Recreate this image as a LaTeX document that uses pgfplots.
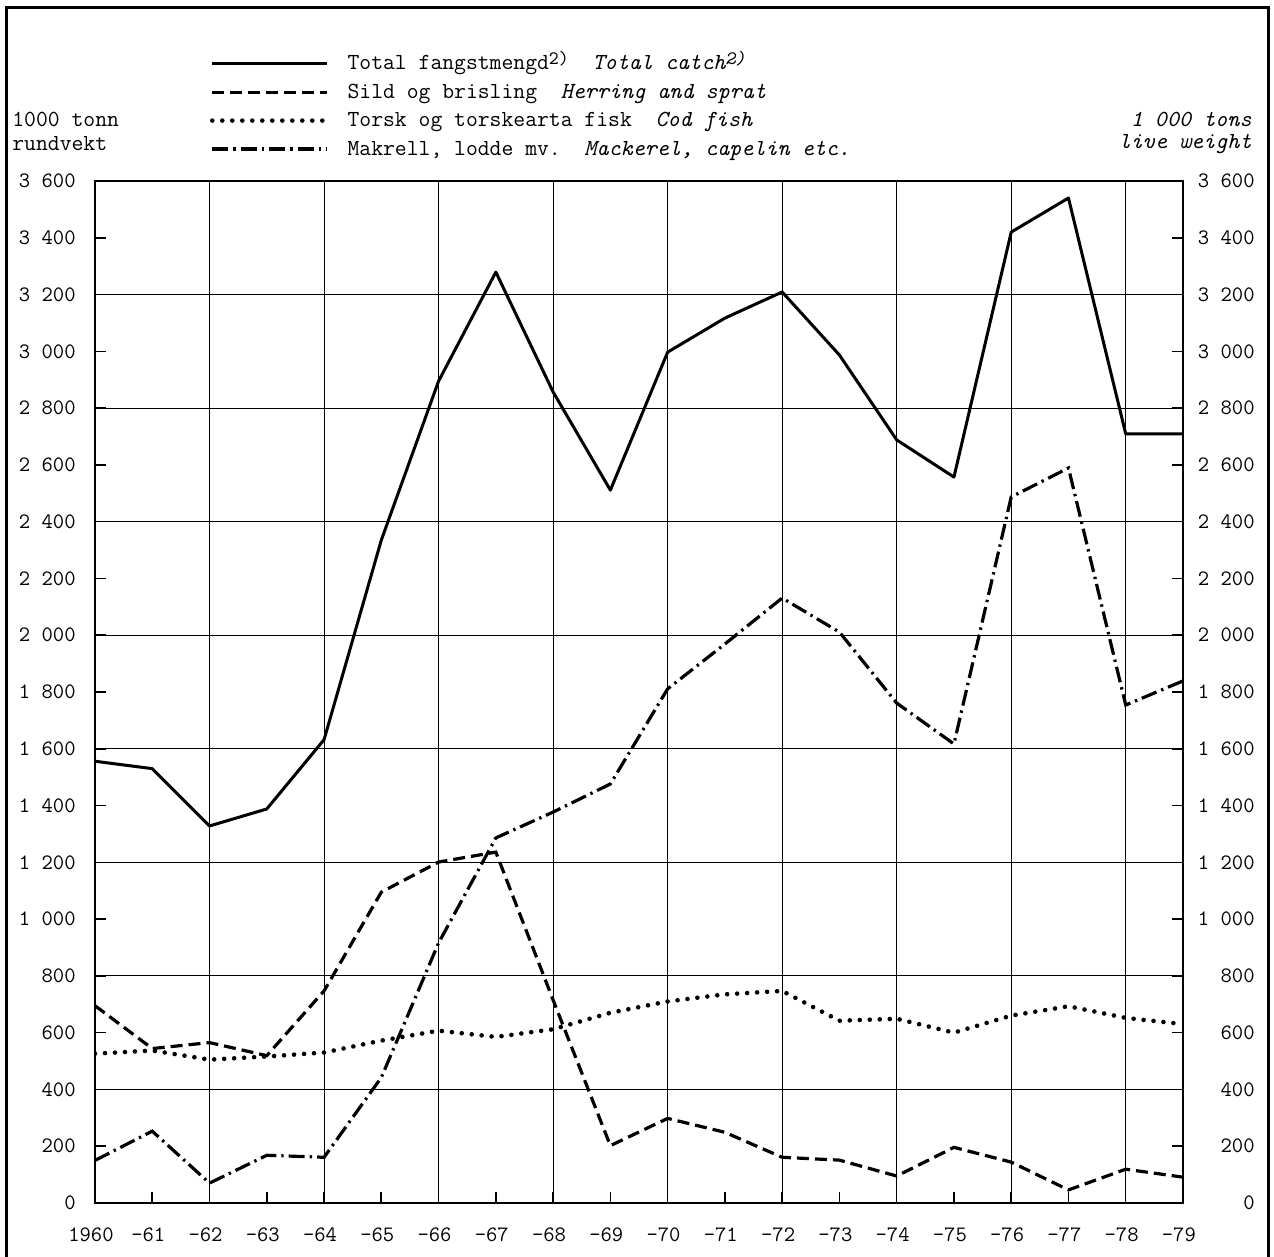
\documentclass[border=0pt]{standalone}
\usepackage{fontspec}
\usepackage{pgfplots}
\pgfplotsset{compat=1.18}
\newcommand{\lfont}{\fontsize{11.5}{13}\selectfont\ttfamily}
\newcommand{\tfont}{\fontsize{11}{13}\selectfont\ttfamily}
\newcommand{\supx}[1]{\raisebox{0.55ex}{\fontsize{9.5}{10}\selectfont #1}}
\begin{document}
\begin{tikzpicture}[font=\lfont]
\path[use as bounding box] (-47.5pt,-27pt) rectangle (589.5pt,601.5pt);
\draw[line width=1.5pt] (-44pt,-28pt) -- (-44pt,597.5pt) -- (586.5pt,597.5pt) -- (586.5pt,-28pt);
\begin{axis}[
  at={(0pt,0pt)}, anchor=south west, scale only axis,
  width=544pt, height=511pt,
  xmin=1960, xmax=1979, ymin=0, ymax=3600,
  axis line style={black, line width=0.9pt},
  xtick={1960,...,1979},
  xticklabels={1960,-61,-62,-63,-64,-65,-66,-67,-68,-69,-70,-71,-72,-73,-74,-75,-76,-77,-78,-79},
  ytick={0,200,...,3600},
  yticklabels={0,200,400,600,800,1 000,1 200,1 400,1 600,1 800,2 000,2 200,2 400,2 600,2 800,3 000,3 200,3 400,3 600},
  tick align=inside, major tick length=5.5pt,
  xtick pos=left, ytick pos=both, yticklabel pos=left,
  tick style={black, line width=0.8pt},
  tick label style={font=\tfont},
  xticklabel style={anchor=north, inner sep=0pt, yshift=-12pt, xshift=-2pt},
  yticklabel style={anchor=east, inner sep=0pt, xshift=-9.5pt},
  extra x ticks={1962,1964,...,1978},
  extra x tick labels={},
  extra x tick style={grid=major, major tick length=0pt},
  extra y ticks={400,800,...,3200},
  extra y tick labels={},
  extra y tick style={grid=major, major tick length=0pt},
  major grid style={black, line width=0.5pt},
  legend cell align=left,
  legend image code/.code={\draw[#1] (0pt,0.6pt) -- (57.5pt,0.6pt);},
  legend style={at={(0.1057,1.1233)}, anchor=north west, draw=none, fill=none,
    inner sep=0pt, outer sep=0pt, row sep=4.2pt, font=\lfont,
    nodes={inner sep=0pt, text height=7.5pt, text depth=2.5pt},
    /tikz/every odd column/.style={column sep=9pt}},
]
\addplot[black, line width=1.5pt, line join=round] coordinates {
(1960,1556) (1961,1530) (1962,1328) (1963,1388) (1964,1632) (1965,2335)
(1966,2895) (1967,3279) (1968,2857) (1969,2511) (1970,2997) (1971,3117)
(1972,3209) (1973,2987) (1974,2688) (1975,2557) (1976,3420) (1977,3540)
(1978,2709) (1979,2709)};
\addlegendentry{Total fangstmengd\supx{2)}\ \ \textit{Total catch\supx{2)}}}
\addplot[black, line width=1.6pt, dash pattern=on 6pt off 3pt] coordinates {
(1960,695) (1961,544) (1962,565) (1963,519) (1964,747) (1965,1095)
(1966,1201) (1967,1236) (1968,715) (1969,202) (1970,298) (1971,249)
(1972,161) (1973,151) (1974,95) (1975,196) (1976,144) (1977,46)
(1978,119) (1979,91)};
\addlegendentry{Sild og brisling\ \ \textit{Herring and sprat}}
\addplot[black, line width=2.3pt, line cap=round, dash pattern=on 0pt off 5pt] coordinates {
(1960,526) (1961,537) (1962,505) (1963,516) (1964,530) (1965,572)
(1966,607) (1967,585) (1968,612) (1969,670) (1970,710) (1971,735)
(1972,747) (1973,642) (1974,649) (1975,600) (1976,660) (1977,693)
(1978,652) (1979,630)};
\addlegendentry{Torsk og torskearta fisk\ \ \textit{Cod fish}}
\addplot[black, line width=1.6pt, dash pattern=on 8pt off 2.5pt on 1.2pt off 2.5pt] coordinates {
(1960,150) (1961,253) (1962,70) (1963,168) (1964,161) (1965,442)
(1966,916) (1967,1286) (1968,1377) (1969,1476) (1970,1811) (1971,1969)
(1972,2131) (1973,2011) (1974,1761) (1975,1617) (1976,2487) (1977,2589)
(1978,1754) (1979,1839)};
\addlegendentry{Makrell, lodde mv.\ \ \textit{Mackerel, capelin etc.}}
\end{axis}
\begin{axis}[
  at={(0pt,0pt)}, anchor=south west, scale only axis,
  width=544pt, height=511pt,
  xmin=1960, xmax=1979, ymin=0, ymax=3600,
  hide x axis, axis y line*=right, y axis line style={draw=none},
  major tick length=0pt,
  ytick={0,200,...,3600},
  yticklabels={0,200,400,600,800,1 000,1 200,1 400,1 600,1 800,2 000,2 200,2 400,2 600,2 800,3 000,3 200,3 400,3 600},
  yticklabel style={anchor=east, inner sep=0pt, xshift=36pt, font=\tfont},
]
\end{axis}
\node[anchor=base west, inner sep=0pt] at (-41.5pt,538pt) {1000 tonn};
\node[anchor=base west, inner sep=0pt] at (-41.5pt,526pt) {rundvekt};
\node[anchor=base east, inner sep=0pt] at (578.5pt,538pt) {\itshape 1 000 tons};
\node[anchor=base east, inner sep=0pt] at (578.5pt,527pt) {\itshape live weight};
\end{tikzpicture}
\end{document}
